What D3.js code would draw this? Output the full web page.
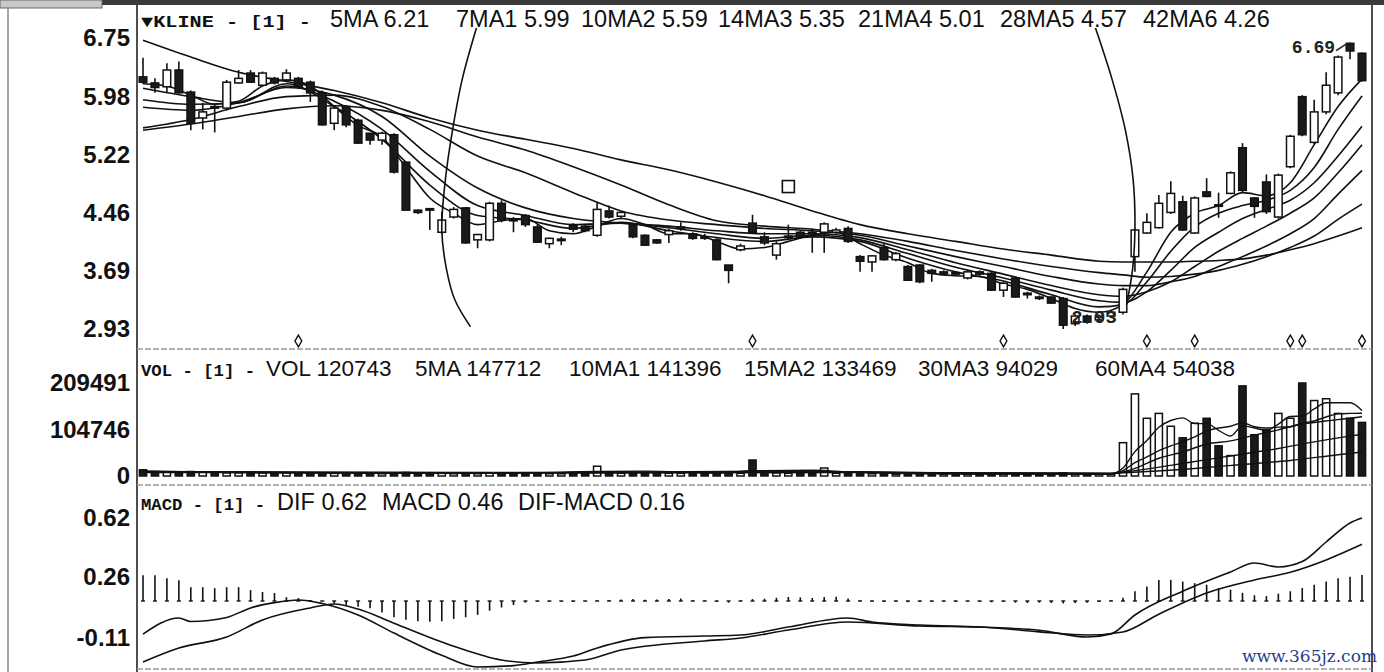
<!DOCTYPE html>
<html><head><meta charset="utf-8">
<script src="https://cdn.jsdelivr.net/npm/d3@7"></script>
<style>body{margin:0;background:#fff;} svg{display:block}</style>
</head><body><svg id="c" width="1384" height="672"></svg>
<script>
// ---------- DATA ----------
const opens  = [6.24,6.16,6.11,6.33,6.04,5.70,5.85,5.83,6.16,6.29,6.13,6.22,6.20,6.22,6.17,6.03,5.63,5.85,5.67,5.50,5.41,5.48,5.12,4.49,4.51,4.20,4.40,4.52,4.10,4.10,4.58,4.37,4.42,4.27,4.05,4.10,4.29,4.28,4.16,4.48,4.41,4.30,4.16,4.10,4.17,4.25,4.18,4.14,4.10,3.77,3.97,4.32,4.14,3.90,4.13,4.20,4.20,4.20,4.20,4.25,3.88,3.81,4.00,3.84,3.75,3.77,3.70,3.66,3.67,3.60,3.68,3.66,3.44,3.60,3.40,3.33,3.35,3.33,3.00,3.10,3.05,3.10,3.15,3.88,4.19,4.26,4.46,4.60,4.19,4.73,4.56,4.71,5.31,4.65,4.86,4.40,5.06,5.98,5.38,5.78,6.03,6.68,6.55];
const highs  = [6.49,6.22,6.42,6.44,6.06,5.90,5.88,6.20,6.33,6.33,6.31,6.24,6.34,6.24,6.19,6.06,5.86,5.87,5.69,5.50,5.52,5.50,5.12,4.50,4.51,4.47,4.53,4.53,4.18,4.60,4.62,4.40,4.44,4.30,4.13,4.14,4.32,4.30,4.60,4.55,4.48,4.32,4.17,4.11,4.25,4.33,4.20,4.18,4.12,3.77,4.05,4.43,4.20,4.08,4.30,4.22,4.25,4.33,4.26,4.28,3.90,3.90,4.05,3.94,3.77,3.78,3.72,3.70,3.69,3.70,3.70,3.68,3.55,3.62,3.42,3.37,3.36,3.35,3.12,3.12,3.12,3.18,3.47,4.25,4.45,4.69,4.87,4.68,4.67,4.91,4.72,5.00,5.37,4.66,4.96,4.97,5.48,6.00,5.94,6.30,6.52,6.69,6.56];
const lows   = [6.15,6.03,6.04,6.02,5.54,5.55,5.51,5.80,6.15,6.16,6.12,6.14,6.18,6.08,5.91,5.60,5.54,5.58,5.36,5.35,5.35,4.97,4.49,4.44,4.23,4.18,4.38,4.05,3.99,4.08,4.33,4.20,4.27,4.06,3.99,4.03,4.20,4.20,4.14,4.38,4.38,4.12,4.02,4.05,4.06,4.22,4.10,4.10,3.83,3.53,3.95,4.18,4.03,3.84,4.10,4.12,3.93,3.93,4.18,4.06,3.68,3.68,3.83,3.82,3.56,3.53,3.55,3.64,3.65,3.58,3.62,3.43,3.35,3.34,3.33,3.31,3.26,2.93,2.97,3.00,3.02,3.08,3.12,3.68,4.18,4.25,4.44,4.22,4.18,4.66,4.39,4.70,4.72,4.39,4.44,4.38,5.04,5.46,5.36,5.75,6.00,6.47,6.18];
const closes = [6.17,6.10,6.33,6.03,5.63,5.78,5.83,6.17,6.22,6.17,6.29,6.16,6.29,6.11,6.03,5.61,5.83,5.61,5.37,5.41,5.50,4.99,4.49,4.46,4.50,4.36,4.50,4.06,4.17,4.58,4.36,4.35,4.30,4.07,4.12,4.11,4.24,4.22,4.50,4.40,4.46,4.14,4.03,4.06,4.22,4.27,4.12,4.12,3.84,3.70,4.02,4.20,4.06,4.05,4.15,4.14,4.18,4.31,4.23,4.08,3.82,3.89,3.84,3.92,3.57,3.55,3.66,3.68,3.66,3.68,3.65,3.44,3.53,3.35,3.38,3.35,3.27,2.98,3.10,3.02,3.10,3.15,3.45,4.23,4.33,4.58,4.71,4.23,4.65,4.67,4.55,4.98,4.75,4.54,4.47,4.95,5.46,5.48,5.78,6.13,6.50,6.58,6.19];
const volumes = [14000,10000,9000,8000,10000,9000,8000,7000,7000,6000,7000,6000,7000,6000,6000,7000,6000,6000,7000,6000,5000,7000,8000,6000,5000,6000,5000,7000,5000,7000,6000,5000,5000,6000,5000,5000,6000,6000,22000,8000,6000,7000,6000,5000,6000,6000,5000,5000,9000,8000,6000,36000,10000,7000,6000,6000,6000,18000,6000,7000,5000,5000,5000,4000,6000,5000,5000,4000,4000,4000,4000,5000,4000,5000,4000,3000,4000,7000,5000,4000,4000,5000,75000,185000,130000,141000,112000,86000,119000,130000,68000,46000,203000,93000,104000,141000,130000,209491,170000,174000,141000,130000,120743];
const histValues = [0.158,0.158,0.14,0.128,0.085,0.085,0.079,0.085,0.085,0.067,0.055,0.049,0.024,0.018,0.005,
  0.0,-0.015,-0.025,-0.035,-0.045,-0.07,-0.1,-0.115,-0.125,-0.128,-0.125,-0.11,-0.1,-0.085,-0.06,-0.04,-0.025,-0.01,-0.005,
  -0.004,-0.004,-0.006,-0.003,0.004,0.006,0.01,0.012,0.008,0.01,0.012,0.015,0.005,0.004,-0.006,-0.01,0.005,0.012,0.014,0.02,0.025,0.022,0.018,0.024,0.026,0.015,0.004,-0.004,-0.006,-0.004,-0.008,-0.006,-0.005,-0.004,-0.006,-0.004,-0.006,-0.008,-0.006,-0.01,-0.012,-0.01,-0.012,-0.015,-0.012,-0.01,-0.006,0.004,
  0.02,0.06,0.09,0.13,0.13,0.12,0.11,0.1,0.08,0.07,0.05,0.035,0.03,0.045,0.06,0.08,0.1,0.12,0.14,0.15,0.16];

const ma5  = [[0,6.15],[2,6.12],[4,6.0],[6,5.88],[8,5.92],[10,6.12],[12,6.2],[14,6.12],[16,5.85],[18,5.6],[20,5.45],[22,5.05],[24,4.65],[26,4.45],[28,4.3],[30,4.35],[32,4.38],[34,4.22],[36,4.18],[38,4.28],[40,4.38],[42,4.3],[44,4.18],[46,4.18],[48,4.08],[50,3.98],[52,4.0],[54,4.08],[56,4.16],[58,4.2],[60,4.05],[62,3.9],[64,3.8],[66,3.66],[68,3.63],[70,3.62],[72,3.52],[74,3.45],[76,3.33],[78,3.2],[80,3.15],[82,3.25],[84,3.68],[86,4.2],[88,4.45],[90,4.55],[92,4.72],[94,4.68],[96,4.85],[98,5.35],[100,5.85],[102,6.21]];
const ma7  = [[0,6.09],[4,5.98],[8,5.9],[12,6.15],[16,5.85],[20,5.42],[24,4.82],[28,4.42],[32,4.36],[36,4.25],[40,4.33],[44,4.22],[48,4.13],[52,4.08],[56,4.14],[60,4.08],[64,3.86],[68,3.68],[72,3.56],[76,3.38],[80,3.22],[82,3.25],[84,3.55],[86,3.95],[88,4.27],[90,4.45],[92,4.55],[94,4.62],[96,4.75],[98,5.05],[100,5.55],[102,5.99]];
const ma10 = [[0,5.94],[4,5.88],[8,5.9],[12,6.12],[16,5.92],[20,5.55],[24,5.0],[28,4.55],[32,4.42],[36,4.3],[40,4.32],[44,4.26],[48,4.18],[52,4.12],[56,4.16],[60,4.1],[64,3.92],[68,3.74],[72,3.6],[76,3.44],[80,3.3],[82,3.28],[84,3.42],[86,3.7],[88,4.0],[90,4.2],[92,4.38],[94,4.5],[96,4.62],[98,4.85],[100,5.2],[102,5.59]];
const ma14 = [[0,5.84],[4,5.8],[8,5.9],[12,6.1],[16,6.0],[20,5.72],[24,5.2],[28,4.78],[32,4.52],[36,4.38],[40,4.32],[44,4.28],[48,4.22],[52,4.18],[56,4.18],[60,4.13],[64,3.97],[68,3.8],[72,3.65],[76,3.5],[80,3.38],[82,3.36],[84,3.42],[86,3.55],[88,3.75],[90,3.95],[92,4.12],[94,4.28],[96,4.45],[98,4.65],[100,4.98],[102,5.35]];
const ma21 = [[0,5.57],[4,5.68],[8,5.85],[12,5.98],[16,6.0],[20,5.85],[24,5.55],[28,5.2],[32,4.98],[36,4.72],[40,4.48],[44,4.36],[48,4.3],[52,4.25],[56,4.22],[60,4.16],[64,4.02],[68,3.88],[72,3.75],[76,3.62],[80,3.52],[82,3.5],[84,3.5],[86,3.55],[88,3.62],[90,3.75],[92,3.88],[94,4.02],[96,4.18],[98,4.38],[100,4.7],[102,5.01]];
const ma28 = [[0,5.54],[4,5.62],[8,5.72],[12,5.82],[16,5.86],[20,5.8],[24,5.65],[28,5.45],[32,5.28],[36,5.06],[40,4.82],[44,4.56],[48,4.35],[52,4.28],[56,4.24],[60,4.18],[64,4.08],[68,3.96],[72,3.85],[76,3.75],[80,3.67],[82,3.64],[84,3.61],[86,3.62],[88,3.65],[90,3.7],[92,3.78],[94,3.88],[96,4.0],[98,4.15],[100,4.37],[102,4.57]];
const ma42 = [[0,6.72],[4,6.5],[8,6.3],[12,6.18],[16,6.06],[20,5.9],[24,5.7],[28,5.54],[32,5.42],[36,5.3],[40,5.15],[44,5.02],[48,4.86],[52,4.68],[56,4.48],[60,4.3],[64,4.18],[68,4.08],[72,3.98],[76,3.9],[80,3.82],[82,3.81],[84,3.81],[86,3.81],[88,3.82],[90,3.83],[92,3.85],[94,3.9],[96,3.97],[98,4.05],[100,4.15],[102,4.26]];

const volMa5  = [[0,11000],[10,7000],[20,6000],[30,6000],[38,10000],[42,11000],[48,6500],[51,12000],[56,13000],[60,8000],[70,4500],[80,4500],[81,5000],[82,18000],[83,55000],[84,80000],[85,110000],[86,125000],[87,131000],[88,118000],[89,118000],[90,103000],[91,90000],[92,113000],[93,108000],[94,103000],[95,117000],[96,134000],[97,135000],[98,151000],[99,165000],[100,165000],[101,165000],[102,147712]];
const volMa10 = [[0,10000],[20,7000],[40,8000],[52,11000],[60,9000],[70,5000],[81,4500],[82,12000],[83,30000],[84,43000],[85,57000],[86,68000],[87,77000],[88,88000],[89,101000],[90,108000],[91,112000],[92,120000],[93,111000],[94,108000],[95,110000],[96,111000],[97,119000],[98,124000],[99,133000],[100,140000],[101,141000],[102,141396]];
const volMa15 = [[0,10000],[30,7000],[50,9000],[60,9000],[70,6000],[81,5000],[83,17000],[85,40000],[87,54000],[89,72000],[91,79000],[93,92000],[95,104000],[97,117000],[99,124000],[101,130000],[102,133469]];
const volMa30 = [[0,9000],[40,7000],[60,8500],[81,5500],[83,12000],[86,24000],[89,37000],[92,49000],[95,62000],[98,77000],[100,86000],[102,94029]];
const volMa60 = [[0,8000],[60,7500],[81,6500],[84,10000],[88,17000],[92,26000],[96,35000],[100,48000],[102,54038]];

const dif = [[0,-0.086],[3,0.012],[4,-0.01],[7,0.015],[9,0.073],[11,0.105],[13,0.121],[15,0.1],[18,0.03],[21,-0.08],[25,-0.215],[28,-0.286],[31,-0.278],[33,-0.256],[36,-0.22],[38,-0.171],[42,-0.108],[47,-0.098],[50,-0.092],[54,-0.043],[59,0.012],[61,-0.013],[65,-0.031],[70,-0.043],[75,-0.063],[79,-0.104],[81,-0.085],[83,0.03],[87,0.175],[91,0.292],[93,0.346],[95,0.322],[97,0.355],[99,0.474],[101,0.59],[102,0.62]];
const dea = [[0,-0.256],[3,-0.171],[7,-0.104],[10,0.0],[14,0.073],[16,0.097],[18,0.066],[21,-0.02],[26,-0.16],[30,-0.244],[33,-0.262],[37,-0.244],[40,-0.183],[47,-0.128],[50,-0.11],[54,-0.061],[59,-0.013],[65,-0.037],[70,-0.043],[75,-0.073],[79,-0.092],[82,-0.073],[85,0.035],[89,0.164],[93,0.243],[96,0.29],[99,0.365],[102,0.46]];

const priceTicks = [6.75,5.98,5.22,4.46,3.69,2.93];
const volTicks = [209491,104746,0];
const macdTicks = [0.62,0.26,-0.11];

const klineLegend = ["5MA 6.21","7MA1 5.99","10MA2 5.59","14MA3 5.35","21MA4 5.01","28MA5 4.57","42MA6 4.26"];
const volLegend = ["VOL 120743","5MA 147712","10MA1 141396","15MA2 133469","30MA3 94029","60MA4 54038"];
const macdLegend = ["DIF 0.62","MACD 0.46","DIF-MACD 0.16"];

const signalDays = [13,51,72,84,88,96,97,102];
const noteBox = [[54,4.80]];
const arcLeft  = [[27.9,6.88],[26.7,6.20],[25.9,5.54],[25.3,4.89],[25.0,4.23],[25.4,3.71],[26.1,3.31],[27.4,2.96]];
const arcRight = [[79.7,6.88],[81.1,6.20],[82.2,5.54],[82.85,4.89],[83.0,4.23],[82.8,3.71],[82.3,3.25]];

// ---------- LAYOUT ----------
const svg = d3.select('#c');
const N = closes.length;
const x  = d3.scaleLinear().domain([0, N-1]).range([143,1362]);
const yP = d3.scaleLinear().domain([2.93,6.75]).range([329,38]);
const yV = d3.scaleLinear().domain([0,209491]).range([476,383]);
const yM = d3.scaleLinear().domain([-0.11,0.62]).range([638,518]);
const yH = d3.scaleLinear().domain([0,0.16]).range([601,575]);

// frame
svg.append('rect').attr('x',0).attr('y',0).attr('width',1384).attr('height',672).attr('fill','#fff');
svg.append('rect').attr('x',0).attr('y',0).attr('width',1384).attr('height',5).attr('fill','#3a3a3a');
svg.append('rect').attr('x',0).attr('y',0).attr('width',102).attr('height',8).attr('fill','#c8c8c8').attr('stroke','#666');
svg.append('line').attr('x1',8).attr('x2',8).attr('y1',8).attr('y2',672).attr('stroke','#888').attr('stroke-width',1.5);
[137,1372].forEach(xx=>svg.append('line').attr('x1',xx).attr('x2',xx).attr('y1',5).attr('y2',672).attr('stroke','#222').attr('stroke-width',1.6));
[349,485,669].forEach(yy=>svg.append('line').attr('x1',137).attr('x2',1372).attr('y1',yy).attr('y2',yy).attr('stroke','#9a9a9a').attr('stroke-width',1.4).attr('stroke-dasharray','6,2'));

// axes
const fmt2 = d => d.toFixed(2);
function styleAxis(g){
  g.select('.domain').remove();
  g.selectAll('text').attr('font-family','"Liberation Sans", Arial, sans-serif')
    .attr('font-weight','bold').attr('font-size',24).attr('fill','#111');
}
svg.append('g').attr('transform','translate(136,0)').call(d3.axisLeft(yP).tickValues(priceTicks).tickSize(0).tickPadding(6).tickFormat(fmt2)).call(styleAxis);
svg.append('g').attr('transform','translate(136,0)').call(d3.axisLeft(yV).tickValues(volTicks).tickSize(0).tickPadding(6).tickFormat(d=>String(d))).call(styleAxis);
svg.append('g').attr('transform','translate(136,0)').call(d3.axisLeft(yM).tickValues(macdTicks).tickSize(0).tickPadding(6).tickFormat(fmt2)).call(styleAxis);

// legends
function header(y, prefix, items, xs, pw, fs){
  svg.append('text').attr('x',141).attr('y',y).attr('font-family','"Liberation Mono", monospace').attr('font-weight','bold')
    .attr('font-size',17).attr('textLength',pw).attr('lengthAdjust','spacingAndGlyphs').attr('fill','#111').text(prefix);
  items.forEach((t,i)=>svg.append('text').attr('x',xs[i]).attr('y',y).attr('font-family','"Liberation Sans", Arial, sans-serif')
    .attr('font-size',fs).attr('fill','#111').text(t));
}
header(27,'\u25BCKLINE - [1] -',klineLegend,[330,456,581,718,858,1000,1143],170,23.5);
header(376,'VOL - [1] -',volLegend,[266,415,569,744,918,1095],114,22.5);
header(510,'MACD - [1] -',macdLegend,[277,382,518],124,23.5);

// price MA lines
const line = d3.line().x(d=>x(d[0])).y(d=>yP(d[1])).curve(d3.curveMonotoneX);
const gP = svg.append('g');
[ma42,ma28,ma21,ma14,ma10,ma7,ma5].forEach(s=>gP.append('path').attr('d',line(s)).attr('fill','none').attr('stroke','#111').attr('stroke-width',1.6));

// candles
const idx = d3.range(N);
const gC = svg.append('g');
idx.forEach(i=>{
  const up = closes[i] >= opens[i];
  const cx = x(i);
  gC.append('line').attr('x1',cx).attr('x2',cx).attr('y1',yP(highs[i])).attr('y2',yP(lows[i])).attr('stroke','#111').attr('stroke-width',1.6);
  const top = yP(Math.max(opens[i],closes[i])), bot = yP(Math.min(opens[i],closes[i]));
  gC.append('rect').attr('x',cx-3.8).attr('width',7.6).attr('y',top).attr('height',Math.max(1.5,bot-top))
    .attr('fill',up?'#fff':'#1a1a1a').attr('stroke','#111').attr('stroke-width',1.5);
});

// annotations in price panel
const arcLine = d3.line().x(d=>x(d[0])).y(d=>yP(d[1])).curve(d3.curveCatmullRom);
[arcLeft,arcRight].forEach(a=>svg.append('path').attr('d',arcLine(a)).attr('fill','none').attr('stroke','#111').attr('stroke-width',1.6));
noteBox.forEach(d=>svg.append('rect').attr('x',x(d[0])-6).attr('y',yP(d[1])-6).attr('width',12).attr('height',12).attr('fill','#fff').attr('stroke','#111').attr('stroke-width',1.6));
signalDays.forEach(i=>svg.append('path').attr('d',d3.symbol().type(d3.symbolDiamond).size(40)()).attr('transform',`translate(${x(i)},341)`).attr('fill','#fff').attr('stroke','#111').attr('stroke-width',1.4));
const hiIdx = d3.maxIndex(highs), loIdx = d3.minIndex(lows);
svg.append('text').attr('x',x(hiIdx)-15).attr('y',yP(highs[hiIdx])+10).attr('text-anchor','end').attr('font-family','"Liberation Mono", monospace').attr('font-weight','bold').attr('font-size',18).attr('fill','#222').text(highs[hiIdx].toFixed(2));
svg.append('line').attr('x1',x(hiIdx)-14).attr('y1',yP(highs[hiIdx])+8).attr('x2',x(hiIdx)-3).attr('y2',yP(highs[hiIdx])+1).attr('stroke','#222').attr('stroke-width',1.6);
svg.append('text').attr('x',x(loIdx)+8).attr('y',yP(lows[loIdx])-6).attr('font-family','"Liberation Mono", monospace').attr('font-weight','bold').attr('font-size',19).attr('fill','#222').text(lows[loIdx].toFixed(2));

// volume
const gV = svg.append('g');
idx.forEach(i=>{
  const up = closes[i] >= opens[i];
  gV.append('rect').attr('x',x(i)-3.6).attr('width',7.2).attr('y',yV(volumes[i])).attr('height',Math.max(1,yV(0)-yV(volumes[i])))
    .attr('fill',up?'#fff':'#1a1a1a').attr('stroke','#111').attr('stroke-width',1.5);
});
const vline = d3.line().x(d=>x(d[0])).y(d=>yV(d[1])).curve(d3.curveMonotoneX);
[volMa60,volMa30,volMa15,volMa10,volMa5].forEach(s=>svg.append('path').attr('d',vline(s)).attr('fill','none').attr('stroke','#111').attr('stroke-width',1.4));

// MACD
const gM = svg.append('g');
idx.forEach(i=>{
  gM.append('line').attr('x1',x(i)).attr('x2',x(i)).attr('y1',yH(0)).attr('y2',yH(histValues[i])).attr('stroke','#111').attr('stroke-width',1.6);
  gM.append('line').attr('x1',x(i)-2).attr('x2',x(i)+2).attr('y1',yH(0)).attr('y2',yH(0)).attr('stroke','#111').attr('stroke-width',1.4);
});
const mline = d3.line().x(d=>x(d[0])).y(d=>yM(d[1])).curve(d3.curveMonotoneX);
[dif,dea].forEach(s=>svg.append('path').attr('d',mline(s)).attr('fill','none').attr('stroke','#111').attr('stroke-width',1.6));

// watermark
svg.append('text').attr('x',1377).attr('y',662).attr('text-anchor','end').attr('font-family','"DejaVu Serif", "Liberation Serif", serif')
  .attr('font-size',17).attr('fill','#1f3f8f').text('www.365jz.com');
</script></body></html>
